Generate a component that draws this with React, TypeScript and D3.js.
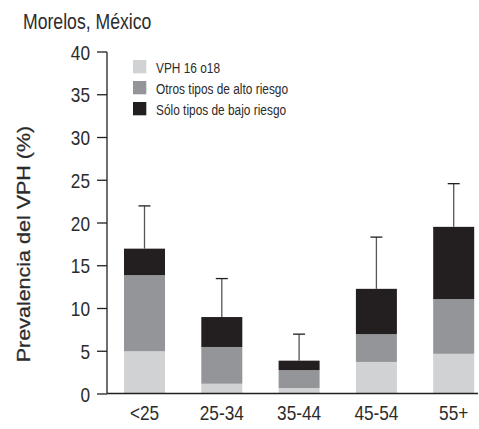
import React from "react";
import * as d3 from "d3";

const categories = ["<25", "25-34", "35-44", "45-54", "55+"];
const vph1618 = [5.0, 1.2, 0.7, 3.75, 4.7];
const otrosAlto = [8.9, 4.3, 2.1, 3.25, 6.4];
const soloBajo = [3.1, 3.5, 1.1, 5.3, 8.45];
const errorTop = [22.0, 13.5, 7.0, 18.35, 24.6];
const yTicks = [0, 5, 10, 15, 20, 25, 30, 35, 40];
const seriesNames = ["VPH 16 o18", "Otros tipos de alto riesgo", "Sólo tipos de bajo riesgo"];
const seriesColors = ["#d1d2d4", "#939598", "#231f20"];

const W = 479;
const H = 429;
const sans = "'Liberation Sans', Arial, Helvetica, sans-serif";
const SQ = 0.82;
const textColor = "#2b2b2b";

function NText(props: {
  x: number;
  y: number;
  size: number;
  anchor?: string;
  dy?: string;
  children: React.ReactNode;
}) {
  return (
    <g transform={`translate(${props.x},${props.y}) scale(${SQ},1)`}>
      <text
        x={0}
        y={0}
        dy={props.dy}
        textAnchor={props.anchor || "start"}
        fontFamily={sans}
        fontSize={props.size}
        fill={textColor}
      >
        {props.children}
      </text>
    </g>
  );
}

export default function App() {
  const axisX = 107;
  const y = d3.scaleLinear().domain([0, 40]).range([394, 52]);
  const x = d3.scalePoint<string>().domain(categories).range([144.5, 453.7]);
  const barW = 41;

  const rows = categories.map((c, i) => ({
    cat: c,
    v0: vph1618[i],
    v1: otrosAlto[i],
    v2: soloBajo[i],
    err: errorTop[i],
  }));
  const stack = d3.stack<any>().keys(["v0", "v1", "v2"])(rows);

  const ink = "#231f20";

  return (
    <svg width={W} height={H} style={{ position: "absolute", left: 0, top: 0, background: "#fff" }}>
      <NText x={23} y={29} size={21.5}>
        Morelos, México
      </NText>

      {stack.map((layer, li) =>
        layer.map((d, i) => (
          <rect
            key={`${li}-${i}`}
            x={(x(categories[i]) as number) - barW / 2}
            y={y(d[1])}
            width={barW}
            height={y(d[0]) - y(d[1])}
            fill={seriesColors[li]}
          />
        ))
      )}

      {rows.map((r, i) => {
        const cx = x(r.cat) as number;
        const top = r.v0 + r.v1 + r.v2;
        return (
          <g key={`e${i}`} stroke={ink} strokeWidth={1.3}>
            <line x1={cx} x2={cx} y1={y(top)} y2={y(r.err)} stroke="#555" />
            <line x1={cx - 6} x2={cx + 6} y1={y(r.err)} y2={y(r.err)} />
          </g>
        );
      })}

      <line x1={axisX} x2={axisX} y1={y(40)} y2={393.5} stroke={ink} strokeWidth={1.3} />
      {yTicks.map((t) => (
        <g key={`t${t}`}>
          <line x1={axisX - 10} x2={axisX} y1={y(t)} y2={y(t)} stroke={ink} strokeWidth={1.3} />
          <NText x={90} y={y(t)} dy="0.36em" anchor="end" size={21}>
            {t}
          </NText>
        </g>
      ))}

      <line x1={axisX} x2={478} y1={393.5} y2={393.5} stroke={ink} strokeWidth={1.3} />
      {categories.map((c) => (
        <NText key={`x${c}`} x={x(c) as number} y={420} anchor="middle" size={21}>
          {c}
        </NText>
      ))}

      <g transform={`translate(24,244) scale(${SQ},1) rotate(-90)`}>
        <text
          x={0}
          y={0}
          dy="0.36em"
          textAnchor="middle"
          fontFamily={sans}
          fontSize={21.5}
          fill={textColor}
          stroke={textColor}
          strokeWidth={0.3}
        >
          Prevalencia del VPH (%)
        </text>
      </g>

      {seriesNames.map((n, i) => (
        <g key={`l${i}`}>
          <rect x={133} y={60 + i * 21} width={13.3} height={13.3} fill={seriesColors[i]} />
          <NText x={156} y={73 + i * 21} size={14.5}>
            {n}
          </NText>
        </g>
      ))}
    </svg>
  );
}
